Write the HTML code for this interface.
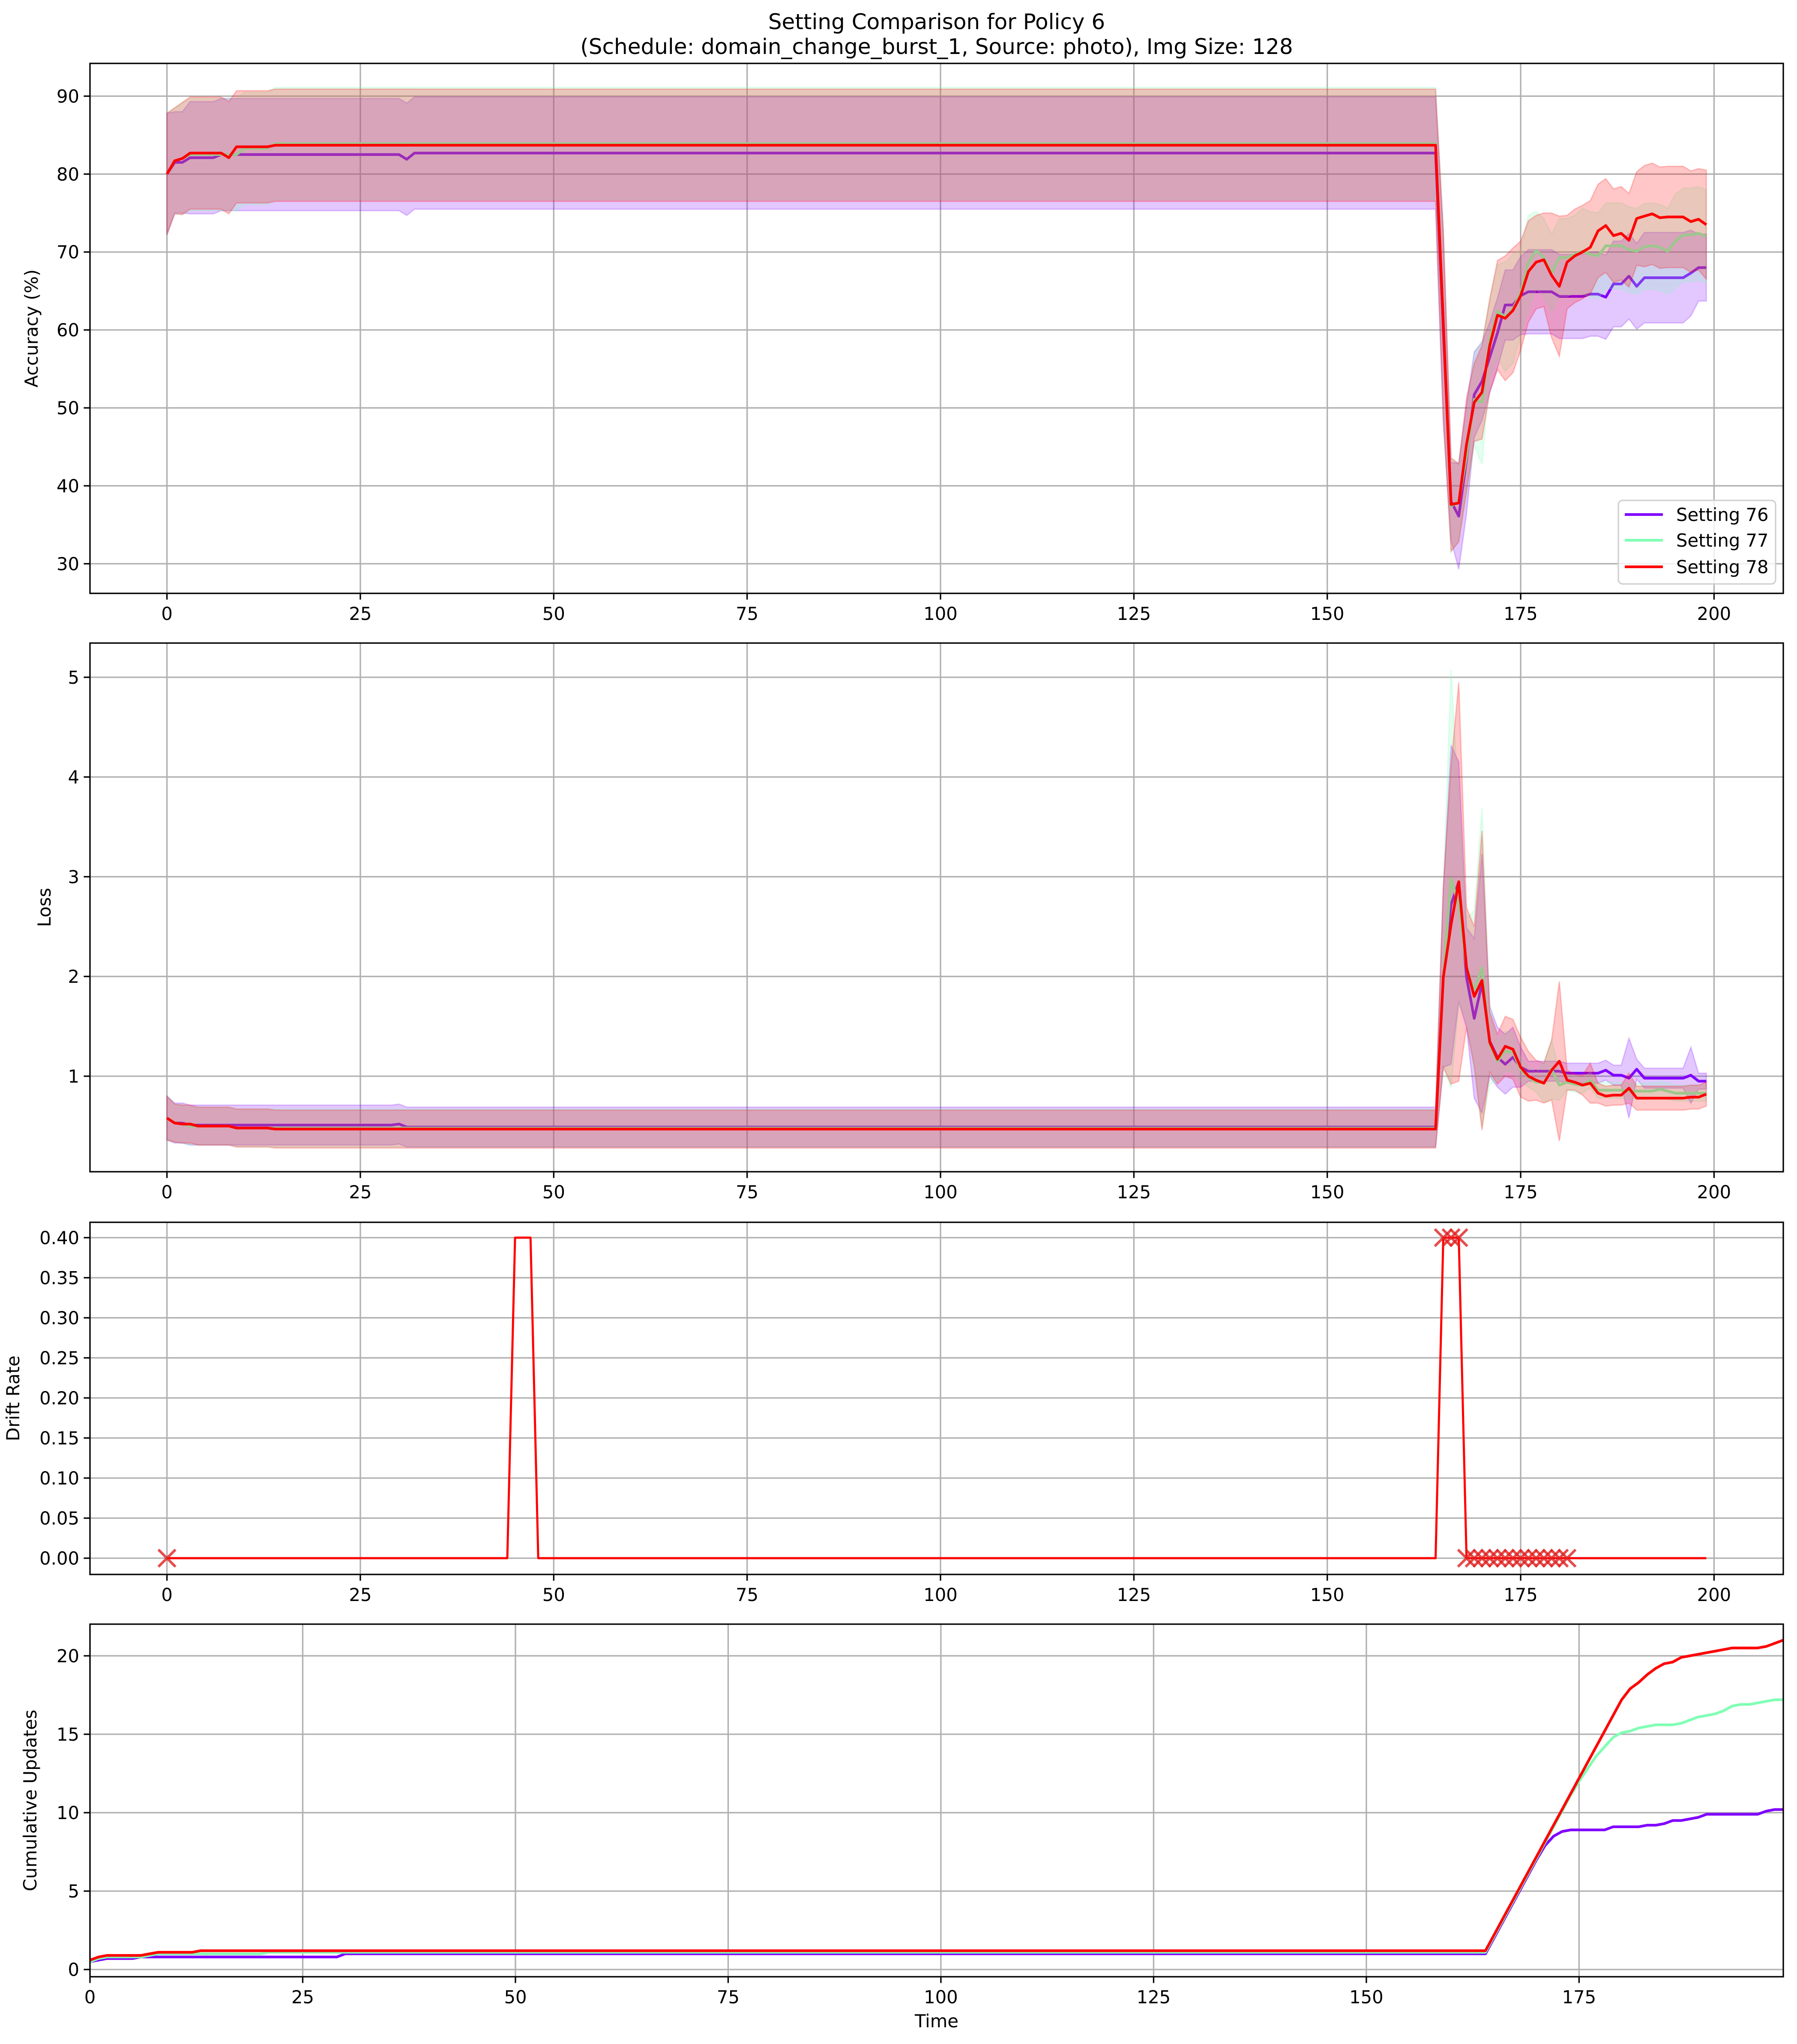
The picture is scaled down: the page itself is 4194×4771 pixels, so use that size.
<!DOCTYPE html>
<html><head><meta charset="utf-8">
<style>
html,body{margin:0;padding:0;background:#fff;}
svg{display:block;font-family:"DejaVu Sans","Liberation Sans",sans-serif;}
</style></head>
<body>
<svg id="fig" width="4194" height="4771" viewBox="0 0 4194 4771" xmlns="http://www.w3.org/2000/svg">
<rect width="4194" height="4771" fill="#fff"/>
<text x="2186" y="68" font-size="50" text-anchor="middle">Setting Comparison for Policy 6</text>
<text x="2186" y="126" font-size="50" text-anchor="middle">(Schedule: domain_change_burst_1, Source: photo), Img Size: 128</text>
<g id="root"></g>
</svg>
<script>
function rep(v,n){return Array(n).fill(v);}
const times = Array.from({length:200},(_, i)=>i);
const seriesNames = ['Setting 76','Setting 77','Setting 78'];
const seriesColors = ['#8000ff','#80ffb4','#ff0000'];

const acc76 = [80,81.5,81.5,82.1,82.1,82.1,82.1,82.5,...rep(82.5,23),81.9,...rep(82.7,133),
 60,38,36.1,43.4,51.7,53.4,56.5,59.6,63.2,63.2,64.4,64.9,64.9,64.9,64.9,64.3,64.3,64.3,64.3,64.6,64.6,64.2,65.9,65.9,66.9,65.6,66.7,66.7,66.7,66.7,66.7,66.7,67.3,68,68];
const acc77 = [80,81.7,82,82.5,82.5,82.5,82.5,82.5,82.5,82.5,...rep(83.3,4),...rep(83.9,151),
 61,37.4,38,43.8,51.1,50.7,58.8,62.4,61.7,62.7,64.8,68.7,70.2,69.3,67.3,69.3,69.3,69.7,70.1,69.7,69.5,70.8,70.8,70.8,70.3,70.1,70.7,70.8,70.6,70.1,71.4,72.2,72.2,72.4,72];
const acc78 = [80,81.7,82,82.7,82.7,82.7,82.7,82.7,82.1,...rep(83.5,5),...rep(83.7,151),
 61,37.6,37.8,45.3,50.7,52,58,61.9,61.5,62.5,64.4,67.5,68.7,69,67,65.6,68.7,69.5,70,70.6,72.7,73.4,72.1,72.4,71.5,74.3,74.6,74.9,74.4,74.5,74.5,74.5,73.9,74.2,73.5];
const accStd76 = [7.8,6.5,6.5,...rep(7.2,162),
 12,5,6.8,7,5.5,5,4.5,4.5,4.5,4.5,5,5.4,5.4,5.4,5.4,5.4,5.4,5.4,5.4,5.4,5.4,5.4,5.5,5.5,5.5,5.5,5.8,5.8,5.8,5.8,5.8,5.8,5.5,4.3,4.3];
const accStd77 = [7.8,6.8,...rep(7.2,163),
 12,6,5,5,6,8,5,6,7,7,5.5,6,5,5,5,5,5,5,5.5,5.5,5.5,5.5,5.5,5.5,5.5,5.5,5.5,5.5,5.5,5.5,6,6,6,6,6];
const accStd78 = [7.8,6.8,...rep(7.2,163),
 12,6,5,6,5,6,6,7,8,8,7,6.5,6,6,8,9,6,6,6,6,6,6,6,6,6,6,6.5,6.5,6.5,6.5,6.5,6.5,6.5,6.5,7];

const loss76 = [0.58,0.53,0.53,...rep(0.51,27),0.52,...rep(0.49,134),
 1.99,2.72,2.95,1.99,1.58,1.93,1.35,1.19,1.12,1.19,1.09,...rep(1.05,5),...rep(1.03,5),1.06,1.01,1.01,0.98,1.07,...rep(0.98,6),1.01,0.95,0.95];
const loss77 = [0.58,0.53,0.52,...rep(0.5,6),...rep(0.48,156),
 1.99,2.98,2.72,2.09,1.86,2.09,1.32,1.15,1.25,1.24,1.07,0.99,0.94,0.94,1.07,0.91,0.94,0.92,0.91,0.96,...rep(0.86,4),...rep(0.85,4),0.87,0.85,...rep(0.83,5)];
const loss78 = [0.58,0.53,0.52,0.52,...rep(0.5,5),...rep(0.48,5),...rep(0.47,151),
 1.99,2.52,2.95,2.09,1.8,1.96,1.34,1.17,1.3,1.27,1.09,1.0,0.96,0.93,1.06,1.15,0.96,0.94,0.91,0.93,0.83,0.8,0.81,0.81,0.88,...rep(0.78,7),0.79,0.79,0.82];
const lossStd76 = [0.22,...rep(0.2,164),
 0.9,1.6,1.2,0.5,0.8,1.3,0.35,0.3,0.3,0.3,0.2,...rep(0.1,13),0.4,0.1,...rep(0.1,6),0.28,0.08,0.08];
const lossStd77 = [0.22,...rep(0.19,164),
 0.9,2.1,1.0,0.5,0.8,1.6,0.4,0.2,0.2,0.2,0.12,0.1,0.1,0.2,0.3,0.15,...rep(0.08,19)];
const lossStd78 = [0.22,...rep(0.19,164),
 0.9,1.6,2.0,0.6,0.7,1.5,0.3,0.25,0.3,0.3,0.3,0.25,0.2,0.2,0.3,0.8,0.1,0.08,0.1,0.2,0.1,0.1,0.1,0.1,0.15,...rep(0.12,10)];

const drift = [...rep(0,45),0.4,0.4,0.4,...rep(0,117),0.4,0.4,0.4,...rep(0,32)];
const driftMarks = [0,165,166,167,168,169,170,171,172,173,174,175,176,177,178,179,180,181];

const cum76 = [0.5,0.6,0.7,0.7,0.7,0.7,...rep(0.8,24),...rep(1.0,135),
 2.0,3.0,4.0,5.0,6.0,7.0,7.9,8.5,8.8,8.9,8.9,8.9,8.9,8.9,9.1,9.1,9.1,9.1,9.2,9.2,9.3,9.5,9.5,9.6,9.7,...rep(9.9,7),10.1,10.2,10.2];
const cum77 = [0.5,0.7,0.8,0.8,0.8,0.8,0.8,0.9,...rep(1.0,13),...rep(1.1,144),
 2.1,3.1,4.1,5.1,6.1,7.1,8.1,9.1,10.1,11.1,12.0,12.8,13.6,14.2,14.8,15.1,15.2,15.4,15.5,15.6,15.6,15.6,15.7,15.9,16.1,16.2,16.3,16.5,16.8,16.9,16.9,17.0,17.1,17.2,17.2];
const cum78 = [0.6,0.8,0.9,0.9,0.9,0.9,0.9,1.0,...rep(1.1,5),...rep(1.2,152),
 2.2,3.2,4.2,5.2,6.2,7.2,8.2,9.2,10.2,11.2,12.2,13.2,14.2,15.2,16.2,17.2,17.9,18.3,18.8,19.2,19.5,19.6,19.9,20.0,20.1,20.2,20.3,20.4,20.5,20.5,20.5,20.5,20.6,20.8,21.0];

const accTicks=[30,40,50,60,70,80,90];
const lossTicks=[1,2,3,4,5];
const driftTicks=[0,0.05,0.10,0.15,0.20,0.25,0.30,0.35,0.40];
const cumTicks=[0,5,10,15,20];
const xTicksA=[0,25,50,75,100,125,150,175,200];
const xTicksB=[0,25,50,75,100,125,150,175];

const NS='http://www.w3.org/2000/svg';
const root=document.getElementById('root');
function el(tag,attrs,parent){const e=document.createElementNS(NS,tag);for(const k in attrs)e.setAttribute(k,attrs[k]);(parent||root).appendChild(e);return e;}

function makeAxes(name,L,R,T,B,xmin,xmax,ymin,ymax,xticks,yticks,yfmt,ylabel,ylabelX){
  const g=el('g',{});
  
  
  const sx=v=>L+(v-xmin)/(xmax-xmin)*(R-L);
  const sy=v=>B-(v-ymin)/(ymax-ymin)*(B-T);
  const grid=el('g',{},g);
  
  
  xticks.forEach(t=>{
    const x=sx(t);
    el('line',{x1:x,x2:x,y1:T,y2:B,stroke:'#b0b0b0','stroke-width':3.3},grid);
    el('line',{x1:x,x2:x,y1:B,y2:B+14.6,stroke:'#000','stroke-width':3.3},g);
    const tx=el('text',{x:x,y:B+62,'font-size':41.7,'text-anchor':'middle'},g);
    
    
    tx.textContent=t;
  });
  yticks.forEach(t=>{
    const y=sy(t);
    el('line',{x1:L,x2:R,y1:y,y2:y,stroke:'#b0b0b0','stroke-width':3.3},grid);
    el('line',{x1:L-14.6,x2:L,y1:y,y2:y,stroke:'#000','stroke-width':3.3},g);
    const tx=el('text',{x:L-25,y:y+15,'font-size':41.7,'text-anchor':'end'},g);
    
    
    tx.textContent=yfmt(t);
  });
  const yl=el('text',{x:ylabelX,y:(T+B)/2,'font-size':41.7,'text-anchor':'middle',transform:`rotate(-90 ${ylabelX} ${(T+B)/2})`},g);
  
  
  yl.textContent=ylabel;
  const plot=el('g',{},g);
  const clipId='clip-'+name;
  const cp=el('clipPath',{id:clipId},g);
  el('rect',{x:L,y:T,width:R-L,height:B-T},cp);
  plot.setAttribute('clip-path',`url(#${clipId})`);
  return {g,plot,sx,sy,frame:()=>{const f=el('rect',{x:L,y:T,width:R-L,height:B-T,fill:'none',stroke:'#000','stroke-width':3.3},g);}};
}

function band(ax,xs,mean,std,color,name){
  let d='';
  xs.forEach((x,i)=>{d+=(i?'L':'M')+ax.sx(x).toFixed(1)+','+ax.sy(mean[i]+std[i]).toFixed(1);});
  for(let i=xs.length-1;i>=0;i--){d+='L'+ax.sx(xs[i]).toFixed(1)+','+ax.sy(mean[i]-std[i]).toFixed(1);}
  const p=el('path',{d:d+'Z',fill:color,'fill-opacity':0.22,stroke:color,'stroke-opacity':0.22,'stroke-width':3},ax.plot);
  
  
}
function line(ax,xs,ys,color,name,w){
  const pts=xs.map((x,i)=>ax.sx(x).toFixed(1)+','+ax.sy(ys[i]).toFixed(1)).join(' ');
  const p=el('polyline',{points:pts,fill:'none',stroke:color,'stroke-width':w||6.25,'stroke-linejoin':'round'},ax.plot);
  
  
}

// Accuracy
const a1=makeAxes('accuracy-panel',210,4162,148,1385,-9.95,208.95,26.2,94.2,xTicksA,accTicks,v=>v,'Accuracy (%)',88);
const accM=[acc76,acc77,acc78], accS=[accStd76,accStd77,accStd78];
for(let s=0;s<3;s++){band(a1,times,accM[s],accS[s],seriesColors[s],'accuracy-band-'+(76+s));line(a1,times,accM[s],seriesColors[s],'accuracy-line-'+(76+s));}
a1.frame();
// legend
const lg=el('g',{});


el('rect',{x:3777,y:1168,width:367,height:195,rx:10,fill:'#fff','fill-opacity':0.8,stroke:'#d0d0d0','stroke-width':3.3},lg);
[1201,1261,1323].forEach((y,i)=>{
  const e=el('g',{},lg);
  
  
  el('line',{x1:3792,x2:3881,y1:y,y2:y,stroke:seriesColors[i],'stroke-width':6.25},e);
  const t=el('text',{x:3912,y:y+15,'font-size':41.7},e);
  t.textContent=seriesNames[i];
});

// Loss
const a2=makeAxes('loss-panel',210,4162,1501,2735,-9.95,208.95,0.042,5.343,xTicksA,lossTicks,v=>v,'Loss',118);
const lossM=[loss76,loss77,loss78], lossS=[lossStd76,lossStd77,lossStd78];
for(let s=0;s<3;s++){band(a2,times,lossM[s],lossS[s],seriesColors[s],'loss-band-'+(76+s));line(a2,times,lossM[s],seriesColors[s],'loss-line-'+(76+s));}
a2.frame();

// Drift
const a3=makeAxes('drift-panel',210,4162,2853,3675,-9.95,208.95,-0.0203,0.4192,xTicksA,driftTicks,v=>v.toFixed(2),'Drift Rate',45);
line(a3,times,drift,'#ff0000','drift-rate-line',5);
driftMarks.forEach(i=>{
  const x=a3.sx(i), y=a3.sy(drift[i]);
  const m=el('path',{d:`M${x-20},${y-20}L${x+20},${y+20}M${x-20},${y+20}L${x+20},${y-20}`,stroke:'#e02020','stroke-opacity':0.8,'stroke-width':6},a3.plot);
  
  
});
a3.frame();

// Cumulative
const a4=makeAxes('cumulative-panel',210,4162,3791,4614,0,199,-0.46,22.02,xTicksB,cumTicks,v=>v,'Cumulative Updates',85);
const cumM=[cum76,cum77,cum78];
for(let s=0;s<3;s++){line(a4,times,cumM[s],seriesColors[s],'cumulative-line-'+(76+s));}
a4.frame();
const xl=el('text',{x:2186,y:4732,'font-size':41.7,'text-anchor':'middle'});


xl.textContent='Time';
</script>
</body></html>
